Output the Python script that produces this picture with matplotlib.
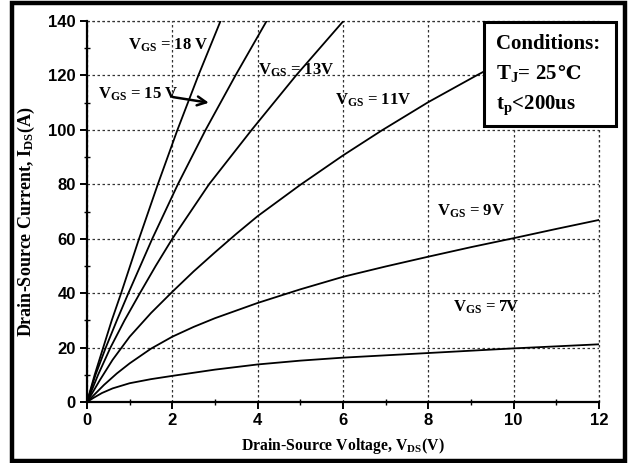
import matplotlib
matplotlib.use("Agg")
import matplotlib.pyplot as plt
from matplotlib.patches import Rectangle
from matplotlib.ticker import MultipleLocator

plt.rcParams['mathtext.fontset'] = 'custom'
plt.rcParams['mathtext.rm'] = 'Liberation Serif:bold'
plt.rcParams['mathtext.it'] = 'Liberation Serif:bold'
plt.rcParams['mathtext.bf'] = 'Liberation Serif:bold'

# ---- data ----
vds_7 = [0, 0.15, 0.35, 0.6, 1.0, 1.5, 2.0, 3.0, 4.0, 5.0, 6.0, 8.0, 10.0, 12.0]
ids_7 = [0, 1.5, 3.3, 5.0, 6.9, 8.4, 9.6, 11.9, 13.8, 15.2, 16.3, 18.0, 19.7, 21.2]

vds_9 = [0, 0.4, 0.7, 1.0, 1.5, 2.0, 2.5, 3.0, 4.0, 5.0, 6.0, 7.0, 8.0, 9.0, 10.0, 11.0, 12.0]
ids_9 = [0, 6.3, 10.5, 14.2, 19.6, 24.0, 27.6, 30.8, 36.4, 41.4, 46.0, 49.8, 53.4, 56.9, 60.2, 63.6, 66.9]

vds_11 = [0, 0.3, 0.6, 1.0, 1.5, 2.0, 2.5, 3.0, 3.5, 4.0, 5.0, 6.0, 6.9, 8.0, 9.13, 9.6]
ids_11 = [0, 8, 15.5, 24, 32.7, 40.5, 48, 55, 61.8, 68.3, 79.8, 90.6, 99.7, 110.2, 120, 123.9]

vds_13 = [0, 0.26, 0.55, 0.88, 1.24, 1.61, 2.0, 2.86, 3.86, 4.9, 6.01]
ids_13 = [0, 10, 20, 30, 40, 50, 60, 80, 100, 120, 140]

vds_15 = [0, 0.2, 0.44, 0.7, 0.97, 1.53, 2.13, 2.78, 3.48, 4.21]
ids_15 = [0, 10, 20, 30, 40, 60, 80, 100, 120, 140]

vds_18 = [0, 0.18, 0.38, 0.58, 0.8, 1.22, 1.66, 2.12, 2.61, 3.13]
ids_18 = [0, 10, 20, 30, 40, 60, 80, 100, 120, 140]

curves = [(vds_7, ids_7), (vds_9, ids_9), (vds_11, ids_11),
          (vds_13, ids_13), (vds_15, ids_15), (vds_18, ids_18)]

labels = [r'$V_{GS}$ = 18 V', r'$V_{GS}$ = 15 V', r'$V_{GS}$ = 13V',
          r'$V_{GS}$ = 11V', r'$V_{GS}$ = 9V', r'$V_{GS}$ = 7V']
label_x = [0.96, 0.26, 4.01, 5.81, 8.2, 8.58]
label_y = [130.9, 112.9, 122.0, 110.7, 70.2, 34.9]

xticks = [0, 2, 4, 6, 8, 10, 12]
yticks = [0, 20, 40, 60, 80, 100, 120, 140]

W, H = 631, 463
fig = plt.figure(figsize=(W / 100, H / 100), dpi=100)
ax = fig.add_axes([87 / W, 1 - 402 / H, 512 / W, 381 / H])

for vx, iy in curves:
    ax.plot(vx, iy, color='black', lw=1.3, solid_joinstyle='round', zorder=3)

ax.set_xlim(0, 12)
ax.set_ylim(0, 140)
ax.set_xticks(xticks)
ax.set_yticks(yticks)
ax.xaxis.set_minor_locator(MultipleLocator(1))
ax.yaxis.set_minor_locator(MultipleLocator(10))
for s in ['top', 'right']:
    ax.spines[s].set_visible(False)
for s in ['left', 'bottom']:
    ax.spines[s].set_linewidth(1.6)
ax.grid(True, which='major', linestyle=(0, (2, 2)), color='#333333', lw=0.9)
ax.axhline(140, linestyle=(0, (2, 2)), color='#333333', lw=0.9, clip_on=False)
ax.axvline(12, linestyle=(0, (2, 2)), color='#333333', lw=0.9, clip_on=False)

ax.tick_params(which='major', direction='out', length=5, width=1.4, pad=3)
ax.tick_params(which='minor', direction='inout', length=4, width=1.0)
for lab in ax.get_xticklabels() + ax.get_yticklabels():
    lab.set_fontfamily('Liberation Sans')
    lab.set_fontweight('bold')
    lab.set_fontsize(12)

ax.set_xlabel(r'Drain-Source Voltage, V$_{DS}$(V)', fontfamily='Liberation Serif',
              fontweight='bold', fontsize=11.3, labelpad=6)
ax.set_ylabel(r'Drain-Source Current, I$_{DS}$(A)', fontfamily='Liberation Serif',
              fontweight='bold', fontsize=13)
ax.yaxis.set_label_coords(-0.097, 0.472)

for t, x, y in zip(labels, label_x, label_y):
    ax.text(x, y, t, fontfamily='Liberation Serif', fontweight='bold', fontsize=12,
            ha='left', va='center', zorder=4)

ax.annotate('', xy=(2.92, 109.8), xytext=(1.95, 112.2),
            arrowprops=dict(arrowstyle='->', lw=1.8, color='black',
                            mutation_scale=16), zorder=4)

# Conditions box (figure level)
box = Rectangle((484 / W, 1 - 126 / H), (616 - 484) / W, (126 - 22) / H,
                transform=fig.transFigure, facecolor='white', edgecolor='black',
                lw=2.2, zorder=10)
fig.add_artist(box)
cond_font = dict(family='Liberation Serif', weight='bold', size=15)
fig.text(496 / W, 1 - 49 / H, 'Conditions:', va='baseline', ha='left', zorder=11, **cond_font)
t_tj = fig.text(496 / W, 1 - 79 / H, r'T$_J$= 25', va='baseline', ha='left', zorder=11, **cond_font)
fig.text(496 / W, 1 - 109 / H, r't$_p$<200us', va='baseline', ha='left', zorder=11, **cond_font)
renderer = fig.canvas.get_renderer()
bb = t_tj.get_window_extent(renderer)
fig.text(bb.x1 / W, 1 - 79 / H, '℃', va='baseline', ha='left', zorder=11,
         family=['DejaVu Serif', 'DejaVu Sans', 'Noto Sans CJK SC'], weight='bold', size=14)

# outer frame
frame = Rectangle((12 / W, 1 - 460.5 / H), (625 - 12) / W, (460.5 - 3) / H,
                  transform=fig.transFigure, facecolor='none', edgecolor='black',
                  lw=3.2, zorder=12)
fig.add_artist(frame)

fig.savefig('out.png', dpi=100)
